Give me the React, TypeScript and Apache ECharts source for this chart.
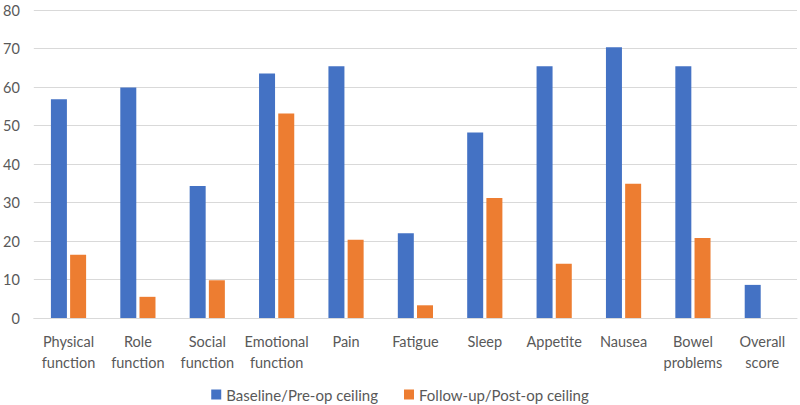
import React, { useEffect, useRef } from "react";
import * as echarts from "echarts";

const categories = [
  "Physical function",
  "Role function",
  "Social function",
  "Emotional function",
  "Pain",
  "Fatigue",
  "Sleep",
  "Appetite",
  "Nausea",
  "Bowel problems",
  "Overall score",
];
const baseline = [56.8, 59.9, 34.3, 63.5, 65.4, 22.0, 48.2, 65.4, 70.3, 65.4, 8.6];
const followUp = [16.4, 5.5, 9.8, 53.1, 20.3, 3.3, 31.2, 14.1, 34.9, 20.8, 0];
const seriesNames = ["Baseline/Pre-op ceiling", "Follow-up/Post-op ceiling"];

const FONT = "Lato, 'Open Sans', sans-serif";

export default function App() {
  const ref = useRef<HTMLDivElement>(null);
  useEffect(() => {
    if (!ref.current) return;
    const chart = echarts.init(ref.current, undefined, { renderer: "svg" });
    chart.setOption({
      animation: false,
      backgroundColor: "#ffffff",
      textStyle: { fontFamily: FONT },
      grid: { left: 32, right: 3, top: 10, bottom: 87, containLabel: false },
      legend: {
        top: 387,
        padding: 0,
        left: "center",
        itemWidth: 10,
        itemHeight: 10,
        itemGap: 26,
        itemTextGap: 4,
        icon: "rect",
        textStyle: { color: "#595959", fontSize: 15, fontFamily: FONT },
        data: seriesNames,
      },
      xAxis: {
        type: "category",
        data: categories,
        axisLine: { lineStyle: { color: "#d9d9d9", width: 1 } },
        axisTick: { show: false },
        axisLabel: {
          color: "#595959",
          fontSize: 14.5,
          fontFamily: FONT,
          margin: 13,
          lineHeight: 21,
          interval: 0,
          formatter: (v: string) => v.replace(" ", "\n"),
        },
      },
      yAxis: {
        type: "value",
        min: 0,
        max: 80,
        interval: 10,
        axisLine: { show: false },
        axisTick: { show: false },
        splitLine: { lineStyle: { color: "#d9d9d9", width: 1 } },
        axisLabel: { color: "#595959", fontSize: 14.5, fontFamily: FONT, margin: 14 },
      },
      series: [
        {
          name: seriesNames[0],
          type: "bar",
          data: baseline,
          barWidth: 16,
          barGap: "20%",
          itemStyle: { color: "#4472C4" },
        },
        {
          name: seriesNames[1],
          type: "bar",
          data: followUp,
          barWidth: 16,
          itemStyle: { color: "#ED7D31" },
        },
      ],
    });
    return () => chart.dispose();
  }, []);
  return (
    <div
      ref={ref}
      style={{ position: "absolute", left: 0, top: 0, width: 800, height: 405 }}
    />
  );
}
